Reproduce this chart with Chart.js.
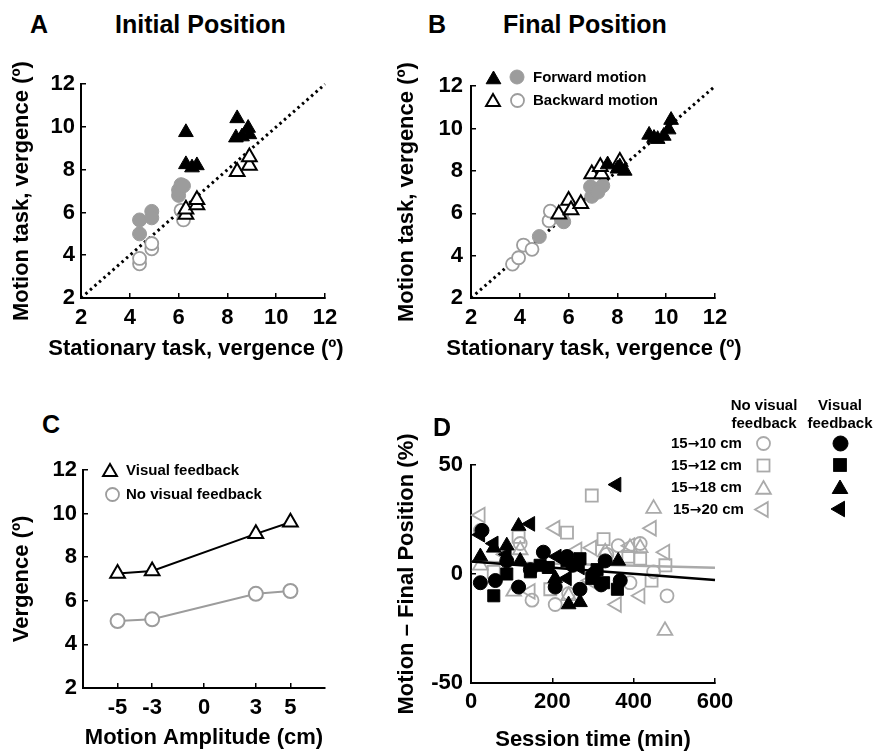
<!DOCTYPE html>
<html><head><meta charset="utf-8">
<script src="https://cdn.jsdelivr.net/npm/chart.js@4.4.0/dist/chart.umd.min.js"></script>
<style>
html,body{margin:0;padding:0;background:#fff;}
body{width:873px;height:755px;position:relative;overflow:hidden;font-family:"Liberation Sans",Arial,sans-serif;font-weight:bold;color:#000;}
canvas{position:absolute;}
.t{position:absolute;white-space:nowrap;line-height:25px;font-size:25px;}
.ax{position:absolute;white-space:nowrap;font-size:22px;line-height:26px;text-align:center;width:400px;}
.lg{position:absolute;font-size:15px;white-space:nowrap;line-height:18px;}
.arr{font-family:"DejaVu Sans",sans-serif;font-size:14px;}
svg.s{position:absolute;overflow:visible;}
</style></head><body>
<canvas id="cA" width="440" height="320" style="left:0;top:60px"></canvas>
<canvas id="cB" width="483" height="320" style="left:390px;top:60px"></canvas>
<canvas id="cC" width="440" height="315" style="left:0;top:440px"></canvas>
<canvas id="cD" width="483" height="325" style="left:390px;top:430px"></canvas>

<div class="t" style="left:30px;top:12px">A</div>
<div class="t" style="left:115px;top:12px">Initial Position</div>
<div class="t" style="left:428px;top:12px">B</div>
<div class="t" style="left:503px;top:12px">Final Position</div>
<div class="t" style="left:42px;top:412px">C</div>
<div class="t" style="left:433px;top:415px">D</div>

<div class="ax" style="left:-4px;top:335px">Stationary task, vergence (º)</div>
<div class="ax" style="left:394px;top:335px">Stationary task, vergence (º)</div>

<div class="lg" style="left:533px;top:68px">Forward motion</div>
<div class="lg" style="left:533px;top:91px">Backward motion</div>
<div class="lg" style="left:126px;top:461px">Visual feedback</div>
<div class="lg" style="left:126px;top:485px">No visual feedback</div>

<div class="lg" style="left:714px;top:396px;width:100px;text-align:center">No visual<br>feedback</div>
<div class="lg" style="left:790px;top:396px;width:100px;text-align:center">Visual<br>feedback</div>
<div id="dLegendText"></div>

<script>
// ---------- DATA ----------
// Panel A: Initial Position (stationary vergence vs motion vergence, degrees)
const aFwdVisX   = [6.3, 6.3, 6.55, 6.75, 8.4, 8.35, 8.85, 8.9, 8.6];
const aFwdVisY   = [9.75, 8.25, 8.1, 8.2, 10.4, 9.5, 9.95, 9.65, 9.55];
const aBackVisX  = [6.3, 6.3, 6.75, 6.75, 8.4, 8.9, 8.9];
const aBackVisY  = [5.9, 6.15, 6.35, 6.6, 7.9, 8.2, 8.6];
const aFwdNoVisX = [4.4, 4.4, 4.9, 4.9, 6.0, 6.0, 6.1, 6.2];
const aFwdNoVisY = [5.0, 5.65, 6.05, 5.75, 6.8, 7.05, 7.3, 7.25];
const aBackNoVisX = [4.4, 4.4, 4.9, 4.9, 6.1, 6.2];
const aBackNoVisY = [3.6, 3.85, 4.3, 4.55, 6.1, 5.65];

// Panel B: Final Position
const bFwdVisX   = [7.6, 8.0, 8.3, 8.1, 9.3, 9.5, 9.9, 10.1, 10.2, 9.65];
const bFwdVisY   = [8.3, 8.1, 8.0, 8.2, 9.7, 9.55, 9.65, 9.95, 10.4, 9.5];
const bBackVisX  = [5.6, 6.0, 6.1, 6.5, 6.95, 7.35, 7.3, 8.1];
const bBackVisY  = [5.95, 6.6, 6.15, 6.45, 7.85, 7.85, 8.2, 8.45];
const bFwdNoVisX = [4.8, 5.7, 5.8, 6.9, 6.95, 7.15, 7.4, 7.2];
const bFwdNoVisY = [4.9, 5.75, 5.6, 7.25, 6.8, 7.1, 7.3, 7.0];
const bBackNoVisX = [3.7, 3.95, 4.15, 4.5, 5.2, 5.25];
const bBackNoVisY = [3.6, 3.9, 4.5, 4.3, 5.65, 6.1];

// identity (dotted) line
const diagX = [2, 12];
const diagY = [2, 12];
const vergTicks = [2, 4, 6, 8, 10, 12];

// Panel C: vergence vs motion amplitude
const cAmplitude   = [-5, -3, 3, 5];
const cVisual      = [7.25, 7.37, 9.07, 9.6];
const cNoVisual    = [5.07, 5.15, 6.32, 6.45];
const cAmpTicks    = [-5, -3, 0, 3, 5];

// Panel D: Motion - Final Position (%) vs session time (min)
const dLegendLabels = ['15\u219210 cm', '15\u219212 cm', '15\u219218 cm', '15\u219220 cm'];
const dNV10T = [23, 121, 150, 207, 240, 334, 362, 391, 416, 449, 482];
const dNV10V = [20, 14, -12, -14, -9, 9, 13, -4, 14, 1, -10];
const dNV12T = [56, 117, 195, 236, 297, 326, 387, 416, 444, 478];
const dNV12V = [1, 17, -7, 19, 36, 16, 8, 7, -3, 4];
const dNV18T = [23, 105, 121, 240, 330, 391, 416, 449, 477];
const dNV18V = [4, -8, 11, -10, 10, 12, 12, 30, -26];
const dNV20T = [23, 84, 146, 207, 261, 293, 297, 358, 391, 416, 444, 477];
const dNV20V = [27, 9, -8, 21, 11, -3, 12, -14, 13, -10, 21, 10];
const dV10T = [23, 27, 60, 88, 117, 146, 178, 207, 236, 250, 268, 301, 320, 330, 367];
const dV10V = [-4, 20, -3, 6, -6, 2, 10, -6, 8, 4, -7, 0, -5, 6, -3];
const dV12T = [56, 88, 146, 170, 190, 236, 268, 297, 310, 326, 360];
const dV12V = [-10, 0, 1, 4, 3, 6, 7, -2, 2, -4, -7];
const dV18T = [23, 56, 88, 117, 121, 207, 240, 268, 362];
const dV18V = [8, 12, 13, 22, 6, -2, -14, -13, 6];
const dV20T = [23, 56, 88, 146, 211, 236, 268, 358];
const dV20V = [18, 14, 9, 23, 8, -2, 3, 41];
const dTrendT     = [0, 600];
const dTrendNoVis = [5.7, 2.9];
const dTrendVis   = [5.7, -2.7];
const dTimeTicks  = [0, 200, 400, 600];
const dDiffTicks  = [-50, 0, 50];

// ---------- STYLE / HELPERS ----------
const GRAY = '#9c9c9c';
const LGRAY = '#aaaaaa';
Chart.defaults.font.family = '"Liberation Sans", Arial, sans-serif';
Chart.defaults.font.weight = 'bold';
Chart.defaults.color = '#000';
Chart.defaults.animation = false;
Chart.defaults.plugins.legend.display = false;
Chart.defaults.plugins.tooltip.enabled = false;

function pts(xs, ys) { return xs.map((x, i) => ({x: x, y: ys[i]})); }

function scale(o) {
  return {
    type: 'linear', min: o.min, max: o.max, position: o.axis === 'x' ? 'bottom' : 'left',
    afterFit: s => { if (o.axis === 'x') s.height = o.size; else s.width = o.size; },
    afterBuildTicks: s => { s.ticks = o.list.map(v => ({value: v})); },
    ticks: { padding: o.tickPad, font: {size: 22, weight: 'bold'}, color: '#000',
             autoSkip: false, maxRotation: 0, callback: v => String(v) },
    grid: { display: true, drawOnChartArea: false, drawTicks: true, tickLength: -5,
            color: '#000', lineWidth: 1.5 },
    border: { display: true, color: '#000', width: 2 },
    title: { display: !!o.title, text: o.title, font: {size: 22, weight: 'bold'}, color: '#000',
             padding: o.axis === 'x' ? {top: 0, bottom: o.titlePad} : {top: o.titlePad, bottom: 0} }
  };
}

function mk(data, style, order, extra) {
  const base = {data: data, order: order, showLine: false, clip: false};
  const st = {
    triB:  {pointStyle: 'triangle', pointRadius: 8.5, backgroundColor: '#000', borderColor: '#000', borderWidth: 1},
    triO:  {pointStyle: 'triangle', pointRadius: 8.5, backgroundColor: '#fff', borderColor: '#000', borderWidth: 2},
    cirG:  {pointStyle: 'circle', pointRadius: 7, backgroundColor: GRAY, borderColor: GRAY, borderWidth: 1},
    cirO:  {pointStyle: 'circle', pointRadius: 6.5, backgroundColor: '#fff', borderColor: GRAY, borderWidth: 1.8},
    dCirB: {pointStyle: 'circle', pointRadius: 7, backgroundColor: '#000', borderColor: '#000', borderWidth: 1},
    dSqB:  {pointStyle: 'rect', pointRadius: 8.5, backgroundColor: '#000', borderColor: '#000', borderWidth: 1},
    dTriB: {pointStyle: 'triangle', pointRadius: 8.5, backgroundColor: '#000', borderColor: '#000', borderWidth: 1},
    dLtB:  {pointStyle: 'triangle', rotation: -90, pointRadius: 8.5, backgroundColor: '#000', borderColor: '#000', borderWidth: 1},
    dCirO: {pointStyle: 'circle', pointRadius: 6.5, backgroundColor: 'rgba(255,255,255,0)', borderColor: LGRAY, borderWidth: 1.8},
    dSqO:  {pointStyle: 'rect', pointRadius: 8.5, backgroundColor: 'rgba(255,255,255,0)', borderColor: LGRAY, borderWidth: 1.8},
    dTriO: {pointStyle: 'triangle', pointRadius: 8.5, backgroundColor: 'rgba(255,255,255,0)', borderColor: LGRAY, borderWidth: 1.8},
    dLtO:  {pointStyle: 'triangle', rotation: -90, pointRadius: 8.5, backgroundColor: 'rgba(255,255,255,0)', borderColor: LGRAY, borderWidth: 1.8}
  }[style];
  return Object.assign(base, st, extra || {});
}

function lineDs(xs, ys, color, width, dash, order) {
  return {data: pts(xs, ys), showLine: true, pointRadius: 0, borderColor: color, borderWidth: width,
          borderDash: dash || [], borderCapStyle: 'butt', order: order, clip: false, fill: false};
}

function chart(id, datasets, pad, xs, ys) {
  new Chart(document.getElementById(id), {
    type: 'scatter',
    data: {datasets: datasets},
    options: {
      responsive: false, devicePixelRatio: 1, animation: false,
      layout: {padding: pad},
      scales: {x: scale(xs), y: scale(ys)},
      plugins: {legend: {display: false}, tooltip: {enabled: false}}
    }
  });
}

// ---------- PANEL A ----------
chart('cA', [
  mk(pts(aFwdVisX, aFwdVisY), 'triB', 1),
  mk(pts(aBackVisX, aBackVisY), 'triO', 2),
  mk(pts(aFwdNoVisX, aFwdNoVisY), 'cirG', 3),
  mk(pts(aBackNoVisX, aBackNoVisY), 'cirO', 4),
  lineDs(diagX, diagY, '#000', 3, [2.5, 3.5], 10)
], {left: 0, top: 21, right: 115, bottom: 0},
  {axis: 'x', min: 2, max: 12, list: vergTicks, size: 82, tickPad: 12, titlePad: 19, title: ''},
  {axis: 'y', min: 2, max: 12, list: vergTicks, size: 81, tickPad: 11, titlePad: 9, title: 'Motion task, vergence (\u00ba)'});

// ---------- PANEL B ----------
chart('cB', [
  mk(pts(bFwdVisX, bFwdVisY), 'triB', 1),
  mk(pts(bBackVisX, bBackVisY), 'triO', 2),
  mk(pts(bFwdNoVisX, bFwdNoVisY), 'cirG', 3),
  mk(pts(bBackNoVisX, bBackNoVisY), 'cirO', 4),
  lineDs(diagX, diagY, '#000', 3, [2.5, 3.5], 10)
], {left: 0, top: 21, right: 158, bottom: 0},
  {axis: 'x', min: 2, max: 12, list: vergTicks, size: 82, tickPad: 12, titlePad: 19, title: ''},
  {axis: 'y', min: 2, max: 12, list: vergTicks, size: 81, tickPad: 13, titlePad: 4, title: 'Motion task, vergence (\u00ba)'});

// ---------- PANEL C ----------
chart('cC', [
  mk(pts(cAmplitude, cVisual), 'triO', 1, {showLine: true, borderColor: '#000', borderWidth: 2}),
  mk(pts(cAmplitude, cNoVisual), 'cirO', 2, {showLine: true, borderColor: GRAY, borderWidth: 2, pointRadius: 7})
], {left: 0, top: 30, right: 115, bottom: 0},
  {axis: 'x', min: -7, max: 7, list: cAmpTicks, size: 67, tickPad: 12, titlePad: 4, title: 'Motion Amplitude (cm)'},
  {axis: 'y', min: 2, max: 12, list: vergTicks, size: 83, tickPad: 11, titlePad: 9, title: 'Vergence (\u00ba)'});

// ---------- PANEL D ----------
chart('cD', [
  mk(pts(dV10T, dV10V), 'dCirB', 1),
  mk(pts(dV12T, dV12V), 'dSqB', 2),
  mk(pts(dV18T, dV18V), 'dTriB', 3),
  mk(pts(dV20T, dV20V), 'dLtB', 4),
  lineDs(dTrendT, dTrendVis, '#000', 2.5, [], 5),
  lineDs(dTrendT, dTrendNoVis, LGRAY, 2.5, [], 6),
  mk(pts(dNV10T, dNV10V), 'dCirO', 7),
  mk(pts(dNV12T, dNV12V), 'dSqO', 8),
  mk(pts(dNV18T, dNV18V), 'dTriO', 9),
  mk(pts(dNV20T, dNV20V), 'dLtO', 10)
], {left: 0, top: 35, right: 158, bottom: 0},
  {axis: 'x', min: 0, max: 600, list: dTimeTicks, size: 72, tickPad: 11, titlePad: 2, title: 'Session time (min)'},
  {axis: 'y', min: -50, max: 50, list: dDiffTicks, size: 81, tickPad: 13, titlePad: 4, title: 'Motion \u2013 Final Position (%)'});

// ---------- LEGEND SYMBOLS (HTML/SVG) ----------
const NS = 'http://www.w3.org/2000/svg';
function sym(shape, cx, cy, r, fill, stroke, sw, rot) {
  const svg = document.createElementNS(NS, 'svg');
  svg.setAttribute('class', 's');
  svg.setAttribute('width', 2 * r + 4); svg.setAttribute('height', 2 * r + 4);
  svg.style.left = (cx - r - 2) + 'px'; svg.style.top = (cy - r - 2) + 'px';
  const c = r + 2;
  let el;
  if (shape === 'circle') {
    el = document.createElementNS(NS, 'circle');
    el.setAttribute('cx', c); el.setAttribute('cy', c); el.setAttribute('r', r);
  } else if (shape === 'rect') {
    el = document.createElementNS(NS, 'rect');
    const h = r * Math.SQRT1_2;
    el.setAttribute('x', c - h); el.setAttribute('y', c - h);
    el.setAttribute('width', 2 * h); el.setAttribute('height', 2 * h);
  } else {
    el = document.createElementNS(NS, 'polygon');
    const p = [0, 120, 240].map(a => {
      const t = (a + (rot || 0)) * Math.PI / 180;
      return (c + Math.sin(t) * r).toFixed(2) + ',' + (c - Math.cos(t) * r).toFixed(2);
    });
    el.setAttribute('points', p.join(' '));
  }
  el.setAttribute('fill', fill); el.setAttribute('stroke', stroke); el.setAttribute('stroke-width', sw);
  svg.appendChild(el);
  document.body.appendChild(svg);
}
// Panel B legend
sym('tri', 493, 79, 8.5, '#000', '#000', 1);
sym('circle', 517, 77, 7, GRAY, GRAY, 1);
sym('tri', 493, 102, 8, '#fff', '#000', 2);
sym('circle', 517, 100, 6.5, '#fff', GRAY, 1.8);
// Panel C legend
sym('tri', 110, 472, 8, '#fff', '#000', 2);
sym('circle', 112, 494, 6.5, '#fff', GRAY, 1.8);
// Panel D legend
const dRowsY = [443, 465, 487, 509];
const dShapes = [['circle', 0], ['rect', 0], ['tri', 0], ['tri', -90]];
const host = document.getElementById('dLegendText');
dLegendLabels.forEach((lab, i) => {
  const d = document.createElement('div');
  d.className = 'lg';
  d.style.left = (i === 3 ? 673 : 671) + 'px';
  d.style.top = (dRowsY[i] - 9) + 'px';
  const parts = lab.split('\u2192');
  d.appendChild(document.createTextNode(parts[0]));
  const a = document.createElement('span');
  a.className = 'arr';
  a.textContent = '\u2192';
  d.appendChild(a);
  d.appendChild(document.createTextNode(parts[1]));
  host.appendChild(d);
  const [sh, rot] = dShapes[i];
  const r = sh === 'circle' ? 6.5 : 8.5;
  sym(sh, 763, dRowsY[i] + (sh === 'tri' && rot === 0 ? 2 : 0), r, 'none', LGRAY, 1.8, rot);
  sym(sh, 840, dRowsY[i] + (sh === 'tri' && rot === 0 ? 2 : 0), sh === 'circle' ? 7.5 : 9, '#000', '#000', 1, rot);
});
</script>
</body></html>
